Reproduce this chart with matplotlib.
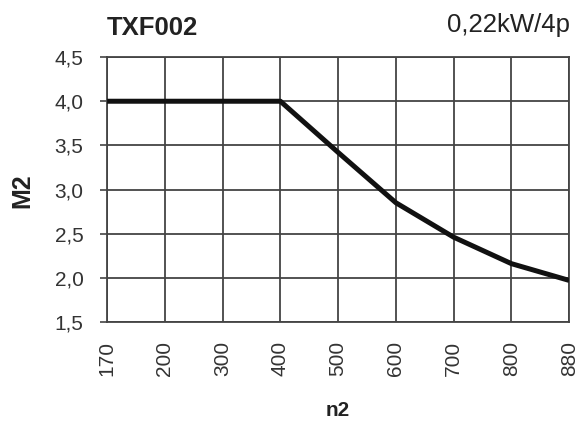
import matplotlib
matplotlib.use("Agg")
import matplotlib.pyplot as plt

plt.rcParams['font.family'] = ['Liberation Sans', 'DejaVu Sans']

# speed n2 against torque M2
n2_labels = ["170", "200", "300", "400", "500", "600", "700", "800", "880"]
m2_values = [4.0, 4.0, 4.0, 4.0, 3.42, 2.85, 2.46, 2.16, 1.97]
y_ticks = [1.5, 2.0, 2.5, 3.0, 3.5, 4.0, 4.5]
y_labels = ["1,5", "2,0", "2,5", "3,0", "3,5", "4,0", "4,5"]

fig = plt.figure(figsize=(5.79, 4.23), dpi=100)
ax = fig.add_axes([0.185, 0.239, 0.798, 0.626])

pos = list(range(len(n2_labels)))
ax.plot(pos, m2_values, color='#111111', linewidth=3.6, solid_capstyle='butt', zorder=3)

ax.set_xlim(0, len(n2_labels) - 1)
ax.set_ylim(1.5, 4.5)
ax.set_xticks(pos)
ax.set_xticklabels(n2_labels, rotation=90, fontsize=15, color='#333333')
ax.set_yticks(y_ticks)
ax.set_yticklabels(y_labels, fontsize=15, color='#333333')
ax.tick_params(axis='x', length=0, pad=14)
ax.tick_params(axis='y', length=5, width=1.2, color='#444444', pad=12)

ax.grid(True, color='#444444', linewidth=1.3)
ax.set_axisbelow(True)
for s in ax.spines.values():
    s.set_color('#444444')
    s.set_linewidth(1.3)

fig.text(0.038, 0.55, "M2", rotation=90, fontsize=18, fontweight='bold',
         color='#222222', ha='center', va='center')
fig.text(0.584, 0.03, "n2", fontsize=15, fontweight='bold',
         color='#222222', ha='center', va='center')

fig.text(0.185, 0.917, "TXF002", fontsize=18.5, fontweight='bold',
         color='#222222', ha='left', va='baseline')
fig.text(0.984, 0.924, "0,22kW/4p", fontsize=18.5,
         color='#222222', ha='right', va='baseline')

fig.savefig("out.png", dpi=100)
